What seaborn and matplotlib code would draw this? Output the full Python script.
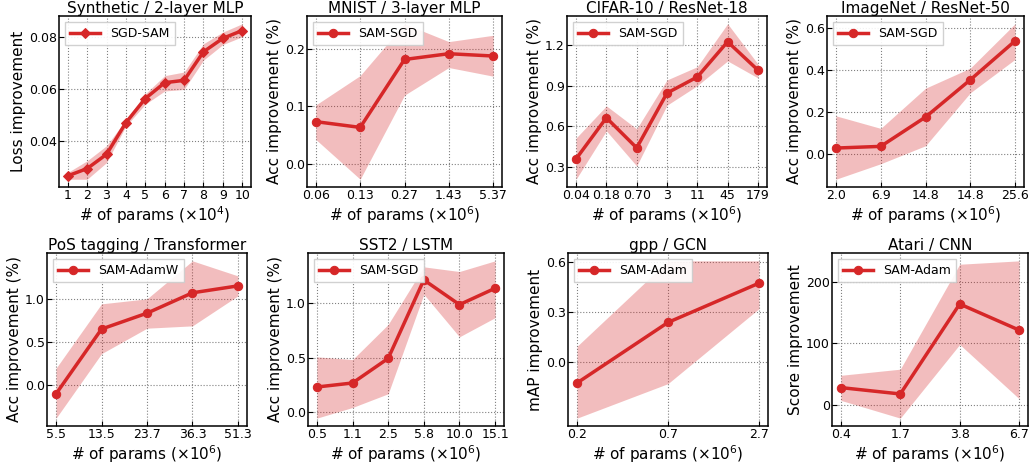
import matplotlib
matplotlib.use("Agg")
import matplotlib.pyplot as plt
import seaborn as sns
import pandas as pd
import numpy as np

# Synthetic / 2-layer MLP
syn_x = [1, 2, 3, 4, 5, 6, 7, 8, 9, 10]
syn_y = [0.0264, 0.0292, 0.0347, 0.0469, 0.0562, 0.0623, 0.0632, 0.0742, 0.0794, 0.0824]
syn_lo = [0.0251, 0.0251, 0.0315, 0.0456, 0.0540, 0.0591, 0.0597, 0.0710, 0.0770, 0.0800]
syn_hi = [0.0277, 0.0322, 0.0380, 0.0480, 0.0580, 0.0650, 0.0664, 0.0773, 0.0818, 0.0850]

# MNIST / 3-layer MLP
mnist_lbl = ["0.06", "0.13", "0.27", "1.43", "5.37"]
mnist_y = [0.073, 0.063, 0.181, 0.191, 0.187]
mnist_lo = [0.042, -0.027, 0.119, 0.167, 0.152]
mnist_hi = [0.102, 0.153, 0.243, 0.212, 0.223]

# CIFAR-10 / ResNet-18
cifar_lbl = ["0.04", "0.18", "0.70", "3", "11", "45", "179"]
cifar_y = [0.358, 0.662, 0.439, 0.845, 0.964, 1.225, 1.015]
cifar_lo = [0.207, 0.565, 0.305, 0.755, 0.900, 1.083, 0.957]
cifar_hi = [0.512, 0.750, 0.580, 0.942, 1.040, 1.358, 1.060]

# ImageNet / ResNet-50
imnet_lbl = ["2.0", "6.9", "14.8", "14.8", "25.6"]
imnet_y = [0.028, 0.036, 0.176, 0.354, 0.540]
imnet_lo = [-0.121, -0.047, 0.039, 0.292, 0.452]
imnet_hi = [0.182, 0.122, 0.314, 0.410, 0.622]

# PoS tagging / Transformer
pos_lbl = ["5.5", "13.5", "23.7", "36.3", "51.3"]
pos_y = [-0.10, 0.65, 0.834, 1.07, 1.15]
pos_lo = [-0.382, 0.365, 0.66, 0.687, 1.035]
pos_hi = [0.197, 0.942, 1.00, 1.44, 1.266]

# SST2 / LSTM
sst_lbl = ["0.5", "1.1", "2.5", "5.8", "10.0", "15.1"]
sst_y = [0.231, 0.268, 0.494, 1.215, 0.988, 1.138]
sst_lo = [-0.055, 0.043, 0.169, 1.083, 0.692, 0.868]
sst_hi = [0.508, 0.483, 0.806, 1.335, 1.292, 1.390]

# gpp / GCN
gpp_lbl = ["0.2", "0.7", "2.7"]
gpp_y = [-0.126, 0.237, 0.472]
gpp_lo = [-0.337, -0.130, 0.319]
gpp_hi = [0.094, 0.606, 0.606]

# Atari / CNN
atari_lbl = ["0.4", "1.7", "3.8", "6.7"]
atari_y = [27.9, 17.5, 164.5, 121.9]
atari_lo = [7.0, -22.0, 98.4, 9.8]
atari_hi = [48.0, 58.0, 229.5, 235.0]

plt.rcParams.update({
    "font.size": 9,
    "xtick.direction": "in",
    "ytick.direction": "in",
    "axes.linewidth": 1.1,
})

red = "#d62728"
x6 = r"# of params ($\times10^6$)"

panels = [
    ("Synthetic / 2-layer MLP", syn_x, None, syn_y, syn_lo, syn_hi, "SGD-SAM", "Loss improvement",
     r"# of params ($\times10^4$)", [0.04, 0.06, 0.08], "D"),
    ("MNIST / 3-layer MLP", None, mnist_lbl, mnist_y, mnist_lo, mnist_hi, "SAM-SGD", "Acc improvement (%)",
     x6, [0.0, 0.1, 0.2], "o"),
    ("CIFAR-10 / ResNet-18", None, cifar_lbl, cifar_y, cifar_lo, cifar_hi, "SAM-SGD", "Acc improvement (%)",
     x6, [0.3, 0.6, 0.9, 1.2], "o"),
    ("ImageNet / ResNet-50", None, imnet_lbl, imnet_y, imnet_lo, imnet_hi, "SAM-SGD", "Acc improvement (%)",
     x6, [0.0, 0.2, 0.4, 0.6], "o"),
    ("PoS tagging / Transformer", None, pos_lbl, pos_y, pos_lo, pos_hi, "SAM-AdamW", "Acc improvement (%)",
     x6, [0.0, 0.5, 1.0], "o"),
    ("SST2 / LSTM", None, sst_lbl, sst_y, sst_lo, sst_hi, "SAM-SGD", "Acc improvement (%)",
     x6, [0.0, 0.5, 1.0], "o"),
    ("gpp / GCN", None, gpp_lbl, gpp_y, gpp_lo, gpp_hi, "SAM-Adam", "mAP improvement",
     x6, [0.0, 0.3, 0.6], "o"),
    ("Atari / CNN", None, atari_lbl, atari_y, atari_lo, atari_hi, "SAM-Adam", "Score improvement",
     x6, [0, 100, 200], "o"),
]

# axes boxes in pixels: left, right, top, bottom
boxes = [
    (59, 251, 16, 187), (307, 502, 16, 187), (567, 767, 16, 187), (827, 1024, 16, 187),
    (47, 247, 253, 426), (308, 504, 253, 426), (568, 768, 253, 426), (832, 1028, 253, 426),
]

W, H = 1032, 463
fig = plt.figure(figsize=(W / 100, H / 100), dpi=100)

for (title, xs, lbls, ys, lo, hi, name, ylab, xlab, yticks, mk), (l, r, t, b) in zip(panels, boxes):
    ax = fig.add_axes([l / W, (H - b) / H, (r - l) / W, (b - t) / H])
    if xs is None:
        xs = list(range(len(ys)))
    df = pd.DataFrame({"x": xs, "y": ys, "lo": lo, "hi": hi})
    ax.fill_between(df["x"], df["lo"], df["hi"], color=red, alpha=0.3, linewidth=0)
    sns.lineplot(data=df, x="x", y="y", ax=ax, color=red, linewidth=2.5,
                 marker=mk, markersize=6 if mk == "o" else 5.5, markeredgecolor=red,
                 label=name)
    ax.set_xticks(xs)
    if lbls is not None:
        ax.set_xticklabels(lbls)
    ax.set_yticks(yticks)
    ax.grid(True, linestyle=":", color="gray", linewidth=0.8)
    ax.set_axisbelow(True)
    ax.set_title(title, fontsize=11, pad=0.5)
    ax.set_xlabel(xlab, fontsize=11, labelpad=1.5)
    ax.set_ylabel(ylab, fontsize=11, labelpad=2)
    ax.tick_params(labelsize=9, pad=1.5)
    ax.legend(loc="upper left", fontsize=9, handlelength=2.4, borderaxespad=0.5,
              fancybox=False, framealpha=0.9)

fig.savefig("out.png", dpi=100)
